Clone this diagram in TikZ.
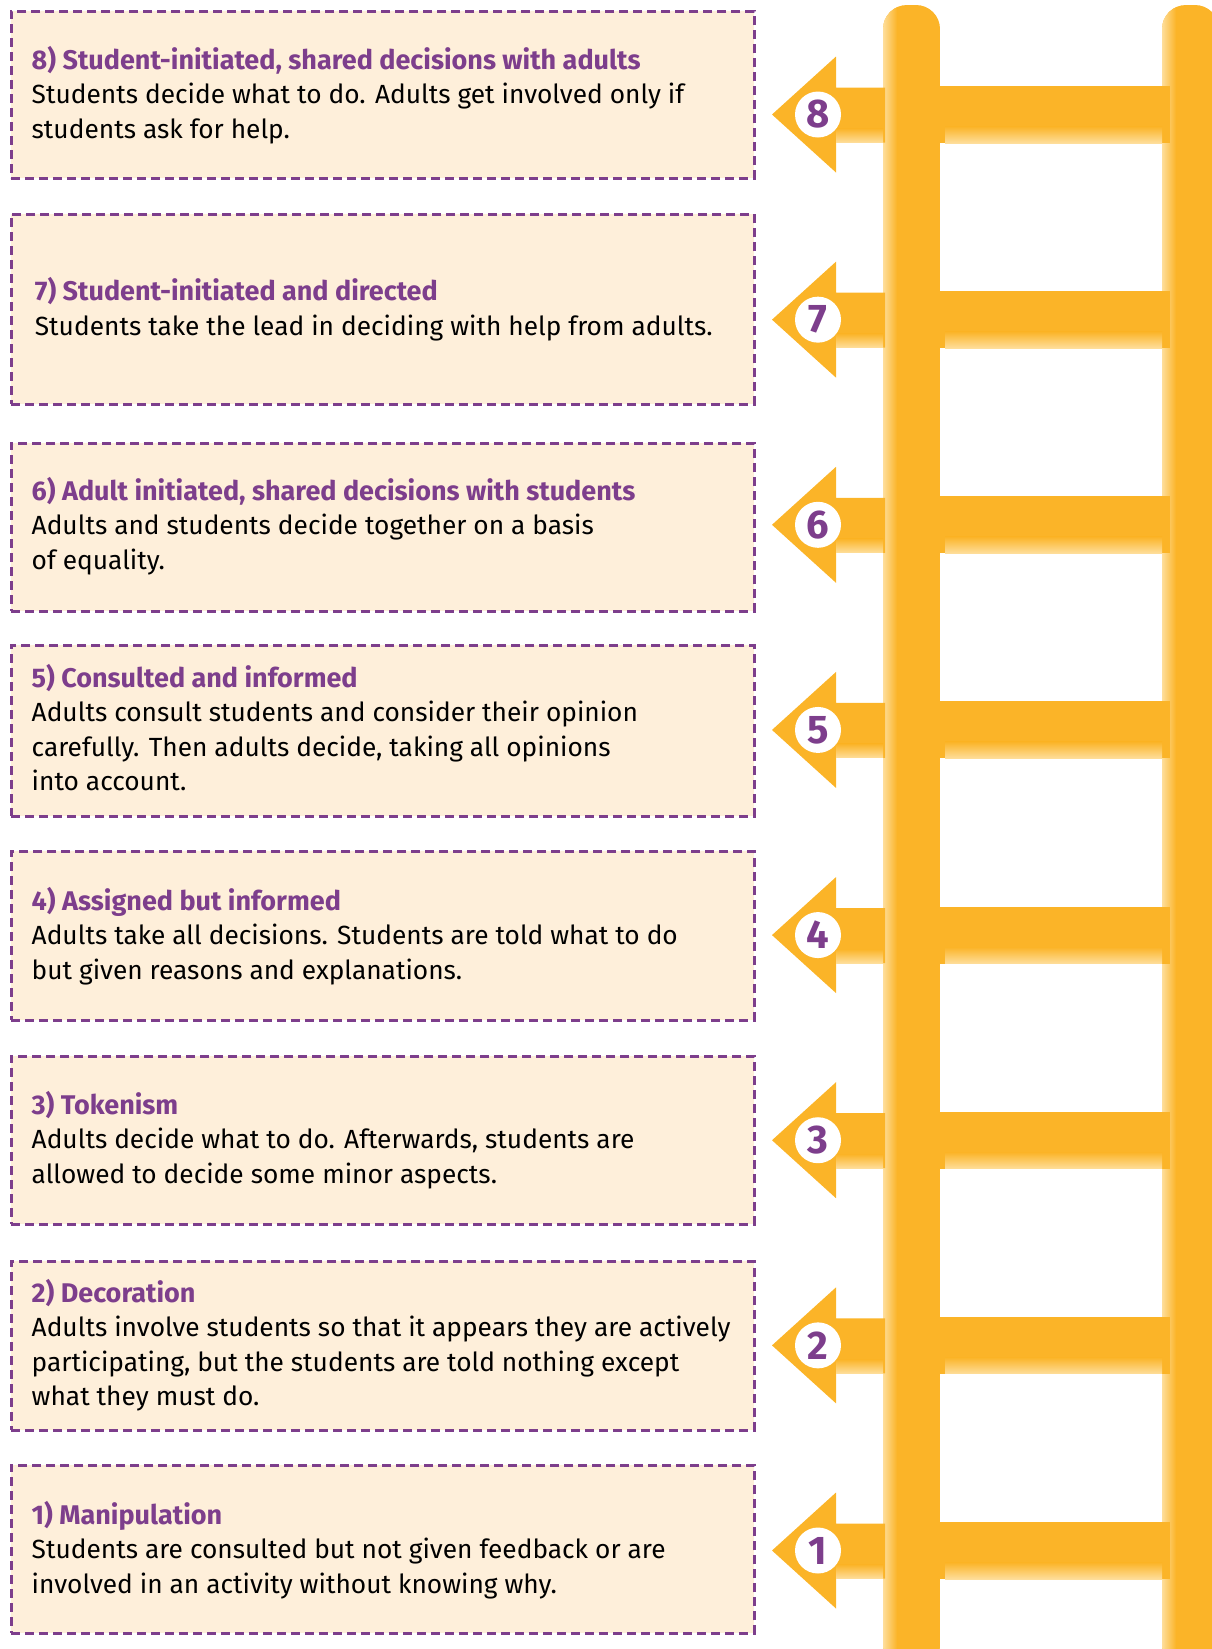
\documentclass[tikz,border=0pt]{standalone}
\usepackage{fontspec}
\setmainfont{Fira Sans}
\definecolor{ladder}{RGB}{251,180,40}
\definecolor{ladderpale}{RGB}{254,222,155}
\definecolor{purp}{RGB}{125,62,140}
\definecolor{boxfill}{RGB}{254,239,218}
\tikzset{
  stepbox/.style={draw=purp, fill=boxfill, line width=2.8pt, dash pattern=on 9pt off 5pt, anchor=north west, inner sep=0, minimum width=743pt},
  titletext/.style={anchor=base west, inner sep=0, text=purp, font=\fontsize{27}{34.7}\selectfont\bfseries},
  bodytext/.style={anchor=base west, inner sep=0, align=left, font=\fontsize{26.3}{34.7}\selectfont},
  numcirc/.style={circle, fill=white, minimum size=46pt, inner sep=0, text=purp, font=\fontsize{40}{40}\selectfont\bfseries},
}
\begin{document}
\begin{tikzpicture}[x=1pt,y=-1pt]
\useasboundingbox (0,0) rectangle (1211,1649);
% ---------- ladder rails ----------
\foreach \rx in {883,1162}{
  \begin{scope}
    \clip[rounded corners=24pt] (\rx,5) rectangle (\rx+57,1670);
    \fill[ladder] (\rx,0) rectangle (\rx+57,1670);
    \shade[left color=ladderpale, right color=ladder] (\rx,0) rectangle (\rx+14,1670);
  \end{scope}
}
% ---------- rungs and arrows ----------
\foreach \k in {1,...,8}{
  \pgfmathsetmacro\c{1550.5-(\k-1)*205.14}
  \fill[ladder] (940,\c-28.5) rectangle (1170,\c+28.5);
  \shade[top color=ladder, bottom color=ladderpale] (945,\c+12) rectangle (1162,\c+28.5);
  \fill[ladder] (885,\c-27) -- (836,\c-27) -- (836,\c-58) -- (772,\c) -- (836,\c+58) -- (836,\c+28) -- (885,\c+28) -- cycle;
  \shade[top color=ladder, bottom color=ladderpale] (836,\c+14) rectangle (883,\c+28);
  \node[numcirc] (n\k) at (818,\c) {\k};
}
% ---------- boxes ----------
\node[stepbox, minimum height=167pt] (box8) at (10,10) {};
\node[stepbox, minimum height=190pt] (box7) at (10,213) {};
\node[stepbox, minimum height=168pt] (box6) at (10,442) {};
\node[stepbox, minimum height=171pt] (box5) at (10,644) {};
\node[stepbox, minimum height=169pt] (box4) at (10,850) {};
\node[stepbox, minimum height=168pt] (box3) at (10,1055) {};
\node[stepbox, minimum height=169pt] (box2) at (10,1260) {};
\node[stepbox, minimum height=168pt] (box1) at (10,1464) {};
% ---------- texts (body nodes anchored at the baseline of their last line) ----------
\node[titletext] (t8) at (31.5,69) {8) Student-initiated, shared decisions with adults};
\node[bodytext] (b8) at (31.5,138.2) {Students decide what to do. Adults get involved only if\\students ask for help.};
\node[titletext] (t7) at (34.7,300) {7) Student-initiated and directed};
\node[bodytext] (b7) at (34.7,335) {Students take the lead in deciding with help from adults.};
\node[titletext] (t6) at (31.5,500) {6) Adult initiated, shared decisions with students};
\node[bodytext] (b6) at (31.5,569.2) {Adults and students decide together on a basis\\of equality.};
\node[titletext] (t5) at (31.5,687) {5) Consulted and informed};
\node[bodytext] (b5) at (31.5,790.9) {Adults consult students and consider their opinion\\carefully. Then adults decide, taking all opinions\\into account.};
\node[titletext] (t4) at (31.5,910) {4) Assigned but informed};
\node[bodytext] (b4) at (31.5,979.2) {Adults take all decisions. Students are told what to do\\but given reasons and explanations.};
\node[titletext] (t3) at (31.5,1114) {3) Tokenism};
\node[bodytext] (b3) at (31.5,1183.2) {Adults decide what to do. Afterwards, students are\\allowed to decide some minor aspects.};
\node[titletext] (t2) at (31.5,1302) {2) Decoration};
\node[bodytext] (b2) at (31.5,1405.9) {Adults involve students so that it appears they are actively\\participating, but the students are told nothing except\\what they must do.};
\node[titletext] (t1) at (31.5,1524) {1) Manipulation};
\node[bodytext] (b1) at (31.5,1593.2) {Students are consulted but not given feedback or are\\involved in an activity without knowing why.};
\end{tikzpicture}
\end{document}
